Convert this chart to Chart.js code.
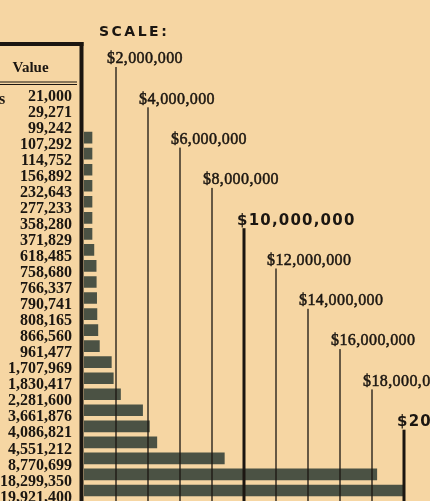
<!DOCTYPE html>
<html>
<head>
<meta charset="utf-8">
<script src="https://cdn.jsdelivr.net/npm/chart.js@4"></script>
<style>
  html, body { margin: 0; padding: 0; background: #f6d6a3; }
  #wrap { position: relative; width: 430px; height: 501px; }
</style>
</head>
<body>
<div id="wrap"><canvas id="chart"></canvas></div>
<script>
const values = [21000, 29271, 99242, 107292, 114752, 156892, 232643, 277233, 358280, 371829,
    618485, 758680, 766337, 790741, 808165, 866560, 961477, 1707969, 1830417, 2281600,
    3661876, 4086821, 4551212, 8770699, 18299350, 19921400];
const valueLabels = values.map(v => v.toLocaleString("en-US"));
const scaleSteps = [2000000, 4000000, 6000000, 8000000, 10000000, 12000000, 14000000, 16000000, 18000000, 20000000];
const boldSteps = [10000000, 20000000];

const ink = "#1b1611";
const barColor = "#4b5244";

// table frame + header on the left
const tablePlugin = {
    id: "table",
    beforeDatasetsDraw(chart) {
        const ctx = chart.ctx;
        const left = chart.chartArea.left;
        ctx.save();
        ctx.fillStyle = ink;
        ctx.fillRect(left - 4.5, 42, 4, chart.height - 42);
        ctx.fillRect(0, 42, left - 0.5, 4);
        ctx.fillRect(0, 81.5, left - 7, 1);
        ctx.fillRect(0, 84, left - 7, 1);
        ctx.font = 'bold 15px "Liberation Serif"';
        ctx.textAlign = "center";
        ctx.textBaseline = "alphabetic";
        ctx.fillText("Value", 30.5, 72);
        // cut-off text of the left column
        ctx.font = 'bold 16px "Liberation Serif"';
        ctx.textAlign = "left";
        ctx.fillText("s", -1, 104);
        ctx.restore();
    }
};

// staircase of scale lines with their labels
const scalePlugin = {
    id: "scaleLines",
    afterDatasetsDraw(chart) {
        const ctx = chart.ctx;
        const x = chart.scales.x;
        ctx.save();
        ctx.fillStyle = ink;
        ctx.strokeStyle = ink;
        ctx.font = 'bold 14px "DejaVu Sans"';
        ctx.letterSpacing = "2.5px";
        ctx.textBaseline = "alphabetic";
        ctx.fillText("SCALE:", 99, 36);

        scaleSteps.forEach((v, i) => {
            const px = x.getPixelForValue(v);
            const labelY = 58 + i * 40.3;
            const bold = boldSteps.includes(v);
            const w = bold ? 3 : 1.3;
            ctx.fillRect(px - w / 2, labelY + 9, w, chart.height - labelY - 9);
            const text = "$" + v.toLocaleString("en-US");
            if (bold) {
                ctx.font = 'bold 15px "DejaVu Sans"';
                ctx.letterSpacing = "1.2px";
                ctx.fillText(text, px - 7, labelY + 5.5);
            } else {
                ctx.font = '16px "Liberation Serif"';
                ctx.letterSpacing = "0.4px";
                ctx.lineWidth = 0.5;
                ctx.fillText(text, px - 9, labelY + 5.3);
                ctx.strokeText(text, px - 9, labelY + 5.3);
            }
        });
        ctx.restore();
    }
};

new Chart(document.getElementById("chart"), {
    type: "bar",
    data: {
        labels: valueLabels,
        datasets: [{
            data: values,
            backgroundColor: c => c.raw < 100000 ? "rgba(0,0,0,0)" : barColor,
            borderWidth: 0,
            barThickness: 11,
            minBarLength: 8
        }]
    },
    options: {
        indexAxis: "y",
        responsive: true,
        maintainAspectRatio: false,
        animation: false,
        layout: { padding: { top: 81.5, right: 26, bottom: 2.5, left: 0 } },
        scales: {
            x: {
                type: "linear",
                min: 0,
                max: 20000000,
                display: false
            },
            y: {
                type: "category",
                grid: { display: false, drawTicks: false },
                border: { display: false },
                ticks: {
                    color: ink,
                    padding: 12,
                    labelOffset: 7,
                    autoSkip: false,
                    font: { family: "Liberation Serif", size: 16, weight: "bold" }
                },
                afterFit: scale => {
                    scale.width = 84;
                    scale.paddingTop = 0;
                    scale.paddingBottom = 0;
                }
            }
        },
        plugins: {
            legend: { display: false },
            tooltip: { enabled: false }
        }
    },
    plugins: [tablePlugin, scalePlugin]
});
</script>
</body>
</html>
